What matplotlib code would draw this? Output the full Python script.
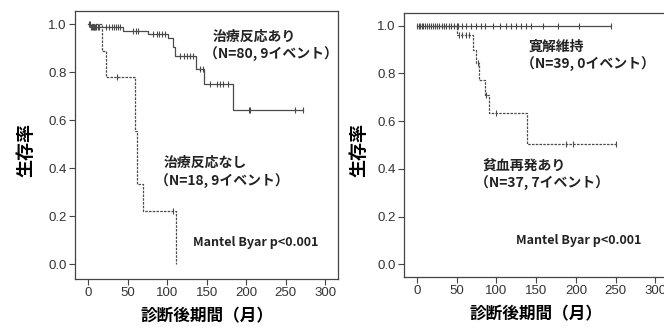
import numpy as np
import matplotlib
matplotlib.use("Agg")
import matplotlib.pyplot as plt

plt.rcParams['font.family'] = ['Noto Sans CJK JP', 'DejaVu Sans']

# left panel: treatment response
resp_times = [3, 44, 76, 101, 107, 110, 137, 147, 183]
resp_surv = [0.987, 0.972, 0.957, 0.940, 0.905, 0.868, 0.813, 0.752, 0.643]
resp_end = 272
resp_censor = [1, 2, 4, 5, 6, 7, 8, 9, 10, 12, 14, 23, 27, 30, 33, 35, 38, 40,
               57, 60, 63, 82, 87, 90, 93, 97, 116, 121, 125, 129, 133, 141, 145,
               154, 163, 167, 171, 177, 203, 205, 262, 272]

nonresp_times = [18, 23, 59, 62, 70, 111]
nonresp_surv = [0.889, 0.778, 0.556, 0.333, 0.222, 0.0]
nonresp_end = 111
nonresp_censor = [36, 108]

# right panel: remission vs anemia relapse
remis_times = []
remis_surv = []
remis_end = 244
remis_censor = [0.5, 2, 4, 6, 8, 10, 12, 15, 18, 20, 22, 25, 28, 31, 34, 37, 40,
                43, 46, 50, 52, 56, 62, 68, 74, 80, 86, 95, 105, 112, 118, 124,
                131, 137, 143, 158, 177, 204, 244]

relapse_times = [50, 70, 74, 78, 85, 90, 139]
relapse_surv = [0.961, 0.897, 0.842, 0.772, 0.710, 0.633, 0.505]
relapse_end = 251
relapse_censor = [53, 57, 61, 66, 77, 87, 100, 187, 197, 251]

x_ticks = [0, 50, 100, 150, 200, 250, 300]
y_ticks = [0.0, 0.2, 0.4, 0.6, 0.8, 1.0]

LINE = '#4a4a4a'
DOT = (0, (2.0, 1.0))


def km_curve(ax, times, surv, end, censor, ls):
    t = np.array([0] + list(times) + [end], dtype=float)
    s = np.array([1.0] + list(surv) + [surv[-1] if surv else 1.0])
    ax.step(t, s, where='post', color=LINE, lw=0.9, ls=ls)
    c = np.array(censor, dtype=float)
    idx = np.searchsorted(t[:-1], c, side='right') - 1
    ax.plot(c, s[idx], ls='none', marker='|', ms=4.5, mew=0.8, color=LINE)


def style_axes(ax, ylim, ylab_x):
    ax.set_xlim(-16.5, 316)
    ax.set_ylim(*ylim)
    ax.set_xticks(x_ticks)
    ax.set_yticks(y_ticks)
    ax.set_yticklabels([f"{v:.1f}" for v in y_ticks])
    for sp in ax.spines.values():
        sp.set_color('#444444')
        sp.set_linewidth(0.9)
    ax.tick_params(direction='out', length=4, width=0.8, color='#444444',
                   labelcolor='#333333', labelsize=9.5, pad=2)
    for lab in ax.get_xticklabels() + ax.get_yticklabels():
        lab.set_family('Liberation Sans')
    ax.set_xlabel('診断後期間（月）', fontsize=12, fontweight='bold', labelpad=6)
    ax.set_ylabel('生存率', fontsize=13, fontweight='bold')
    ax.yaxis.set_label_coords(ylab_x, 0.48)


fig = plt.figure(figsize=(6.64, 3.29), dpi=100)
ax1 = fig.add_axes([0.113, 0.152, 0.396, 0.815])
ax2 = fig.add_axes([0.6084, 0.159, 0.3976, 0.8024])

km_curve(ax1, resp_times, resp_surv, resp_end, resp_censor, '-')
km_curve(ax1, nonresp_times, nonresp_surv, nonresp_end, nonresp_censor, DOT)
style_axes(ax1, (-0.061, 1.055), -0.152)

km_curve(ax2, remis_times, remis_surv, remis_end, remis_censor, '-')
km_curve(ax2, relapse_times, relapse_surv, relapse_end, relapse_censor, DOT)
style_axes(ax2, (-0.052, 1.0545), -0.133)

txt = dict(fontsize=10, fontweight='bold', color='#222222', va='center', ha='left')
mantel = dict(fontsize=9, fontweight='bold', color='#222222',
              va='center', ha='left')
ax1.text(157, 0.947, '治療反応あり', **txt)
ax1.text(146, 0.874, '（N=80, 9イベント）', **txt)
ax1.text(96, 0.422, '治療反応なし', **txt)
ax1.text(85, 0.345, '（N=18, 9イベント）', **txt)
ax1.text(133, 0.091, 'Mantel Byar p<0.001', **mantel)

ax2.text(141, 0.912, '寛解維持', **txt)
ax2.text(131, 0.838, '（N=39, 0イベント）', **txt)
ax2.text(82, 0.409, '貧血再発あり', **txt)
ax2.text(73, 0.339, '（N=37, 7イベント）', **txt)
ax2.text(125, 0.098, 'Mantel Byar p<0.001', **mantel)

fig.savefig('out.png', dpi=100)
